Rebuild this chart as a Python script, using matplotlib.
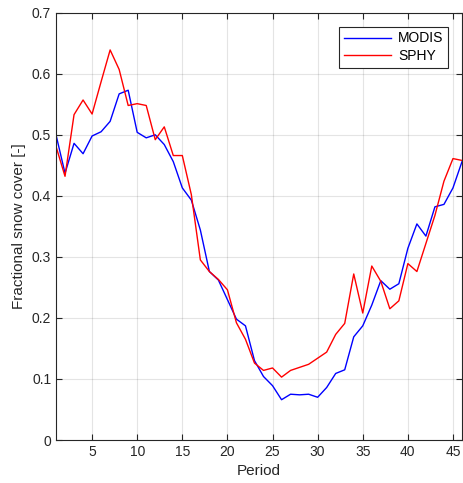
import numpy as np
import matplotlib.pyplot as plt

plt.rcParams['font.family'] = ['Liberation Sans', 'DejaVu Sans']

period = np.arange(1, 47)

# MODIS observed fractional snow cover
modis = [0.500, 0.437, 0.486, 0.469, 0.498, 0.505, 0.522, 0.567, 0.573, 0.504,
         0.495, 0.500, 0.484, 0.456, 0.413, 0.393, 0.344, 0.276, 0.262, 0.230,
         0.198, 0.187, 0.130, 0.104, 0.089, 0.066, 0.075, 0.074, 0.075, 0.070,
         0.086, 0.109, 0.115, 0.169, 0.187, 0.221, 0.261, 0.247, 0.256, 0.314,
         0.354, 0.334, 0.382, 0.386, 0.413, 0.456]

# SPHY simulated fractional snow cover
sphy = [0.481, 0.432, 0.533, 0.557, 0.534, 0.587, 0.639, 0.607, 0.548, 0.551,
        0.548, 0.492, 0.513, 0.466, 0.466, 0.402, 0.295, 0.276, 0.263, 0.246,
        0.192, 0.165, 0.126, 0.114, 0.118, 0.103, 0.114, 0.119, 0.124, 0.134,
        0.144, 0.173, 0.191, 0.272, 0.208, 0.285, 0.260, 0.215, 0.228, 0.289,
        0.276, 0.322, 0.368, 0.424, 0.461, 0.458]

fig = plt.figure(figsize=(4.63, 4.83), dpi=100)
ax = fig.add_axes([56 / 463, 1 - 440 / 483, 406 / 463, (440 - 12.7) / 483])

ax.plot(period, modis, color=(0, 0, 1), lw=1.0, label='MODIS')
ax.plot(period, sphy, color=(1, 0, 0), lw=1.0, label='SPHY')

ax.set_xlim(1, 46)
ax.set_ylim(0, 0.7)
ax.set_xticks(range(5, 46, 5))
ax.set_yticks(np.arange(0, 0.71, 0.1))
ax.set_yticklabels(['0', '0.1', '0.2', '0.3', '0.4', '0.5', '0.6', '0.7'])

axcol = (0.15, 0.15, 0.15)
ax.grid(True, color=(0.15, 0.15, 0.15), alpha=0.12, lw=0.8)
ax.tick_params(direction='in', top=True, right=True, length=4, width=0.8,
               colors=axcol, labelsize=10)
for s in ax.spines.values():
    s.set_color(axcol)
    s.set_linewidth(0.8)

ax.set_xlabel('Period', fontsize=11, color=axcol)
ax.set_ylabel('Fractional snow cover [-]', fontsize=11, color=axcol)

leg = ax.legend(loc='upper right', fontsize=10, fancybox=False, framealpha=1,
                edgecolor=axcol, borderaxespad=1.0, handlelength=3.4,
                labelspacing=0.25, borderpad=0.35, handletextpad=0.5)
leg.get_frame().set_linewidth(0.8)

fig.savefig('out.png', dpi=100)
